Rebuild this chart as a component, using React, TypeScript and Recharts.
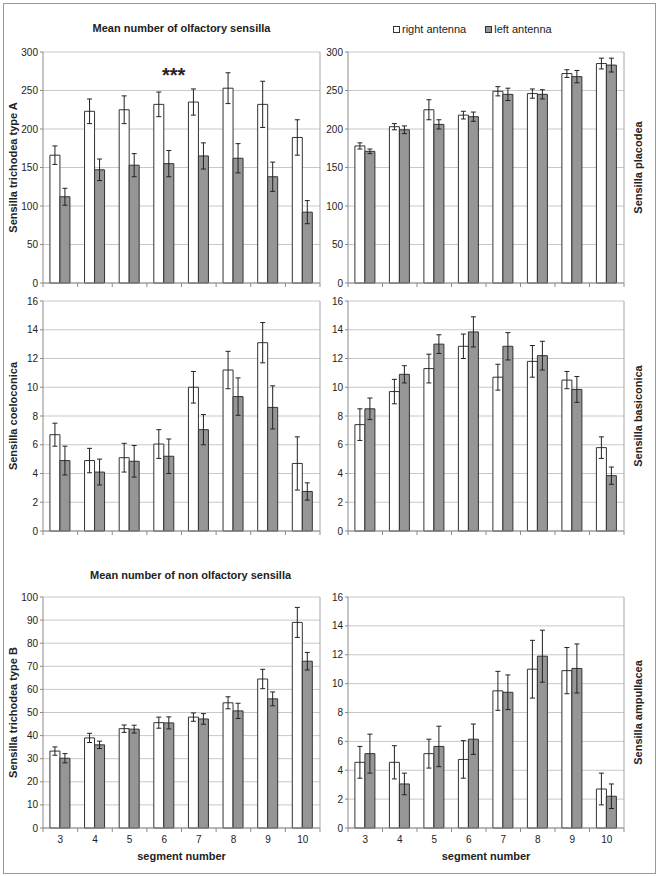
import { BarChart, Bar, XAxis, YAxis, CartesianGrid, ErrorBar, Legend } from 'recharts';

const segments = ['3', '4', '5', '6', '7', '8', '9', '10'];
const seriesOrder = ['right antenna', 'left antenna'];

const bigTicks = [0, 50, 100, 150, 200, 250, 300];
const smallTicks = [0, 2, 4, 6, 8, 10, 12, 14, 16];
const trichoBTicks = [0, 10, 20, 30, 40, 50, 60, 70, 80, 90, 100];

// Sensilla trichodea type A
const trichoARight = [166, 223, 225, 232, 235, 253, 232, 189];
const trichoARightErr = [12, 16, 18, 16, 17, 20, 30, 23];
const trichoALeft = [112, 147, 153, 155, 165, 162, 138, 92];
const trichoALeftErr = [11, 14, 15, 17, 17, 19, 19, 15];

// Sensilla placodea
const placodeaRight = [178, 203, 225, 218, 249, 246, 272, 285];
const placodeaRightErr = [4, 4, 13, 5, 6, 6, 5, 7];
const placodeaLeft = [171, 199, 206, 216, 245, 245, 268, 283];
const placodeaLeftErr = [3, 5, 6, 6, 8, 6, 8, 9];

// Sensilla coeloconica
const coeloRight = [6.7, 4.9, 5.1, 6.05, 10.0, 11.2, 13.1, 4.7];
const coeloRightErr = [0.8, 0.85, 1.0, 1.0, 1.1, 1.3, 1.4, 1.85];
const coeloLeft = [4.9, 4.1, 4.85, 5.2, 7.05, 9.35, 8.6, 2.75];
const coeloLeftErr = [1.0, 0.9, 1.1, 1.2, 1.05, 1.3, 1.5, 0.6];

// Sensilla basiconica
const basiRight = [7.4, 9.7, 11.3, 12.85, 10.7, 11.8, 10.5, 5.8];
const basiRightErr = [1.1, 0.85, 1.0, 0.85, 0.9, 1.1, 0.6, 0.75];
const basiLeft = [8.5, 10.9, 13.0, 13.85, 12.85, 12.2, 9.85, 3.85];
const basiLeftErr = [0.75, 0.6, 0.65, 1.05, 0.95, 1.0, 0.9, 0.6];

// Sensilla trichodea type B
const trichoBRight = [33.3, 39.0, 43.0, 45.6, 48.0, 54.2, 64.5, 89.0];
const trichoBRightErr = [1.8, 2.0, 1.6, 2.4, 1.8, 2.6, 4.2, 6.5];
const trichoBLeft = [30.2, 36.0, 42.8, 45.5, 47.2, 50.7, 55.9, 72.2];
const trichoBLeftErr = [2.0, 1.6, 1.7, 2.6, 2.3, 3.3, 3.0, 3.8];

// Sensilla ampullacea
const ampRight = [4.55, 4.55, 5.15, 4.75, 9.5, 11.0, 10.9, 2.7];
const ampRightErr = [1.1, 1.15, 1.0, 1.3, 1.35, 2.0, 1.6, 1.1];
const ampLeft = [5.15, 3.05, 5.65, 6.15, 9.4, 11.9, 11.05, 2.2];
const ampLeftErr = [1.35, 0.75, 1.4, 1.05, 1.2, 1.8, 1.7, 0.85];

const FONT = '"Liberation Sans", Arial, sans-serif';
const TEXT = '#222';
const GRID = '#c8c8c8';
const AXIS = '#8a8a8a';
const BORDER = '#a6a6a6';
const BAR_STROKE = '#333';
const GRAY = '#969696';

const SideLabel = (props: any) => {
  const { viewBox, value, dx } = props;
  const cx = viewBox.x + dx;
  const cy = viewBox.y + viewBox.height / 2;
  return (
    <text
      x={cx}
      y={cy}
      transform={`rotate(-90 ${cx} ${cy})`}
      textAnchor="middle"
      dominantBaseline="central"
      fontSize={11}
      fontWeight="bold"
      fill={TEXT}
    >
      {value}
    </text>
  );
};

// category ticks sit between the groups, like the original spreadsheet chart
const makeTick = (band: number, showLabel: boolean) => (props: any) => {
  const { x, y, payload, index } = props;
  const h = band / 2;
  return (
    <g>
      <line x1={x - h} x2={x - h} y1={y} y2={y + 4} stroke={AXIS} />
      {index === segments.length - 1 && <line x1={x + h} x2={x + h} y1={y} y2={y + 4} stroke={AXIS} />}
      {showLabel && (
        <text x={x} y={y + 8} dy="0.71em" textAnchor="middle" fontSize={10} fill={TEXT}>
          {payload.value}
        </text>
      )}
    </g>
  );
};

const LegendContent = ({ payload }: any) => {
  const items = [...(payload || [])].sort((a: any, b: any) => seriesOrder.indexOf(a.value) - seriesOrder.indexOf(b.value));
  return (
    <div style={{ display: 'flex', gap: 19, fontSize: 11, color: TEXT, lineHeight: '13px', fontFamily: FONT }}>
      {items.map((e: any) => (
        <span key={e.value} style={{ display: 'flex', alignItems: 'center' }}>
          <span style={{ width: 5, height: 5, border: `1px solid ${BAR_STROKE}`, background: e.color, marginRight: 2 }} />
          {e.value}
        </span>
      ))}
    </div>
  );
};

interface PanelProps {
  side: 'left' | 'right';
  top: number;
  height: number;
  marginTop: number;
  xHeight: number;
  ticks: number[];
  right: number[];
  rightErr: number[];
  left: number[];
  leftErr: number[];
  label: string;
  bottomRow?: boolean;
  legend?: boolean;
}

function Panel({ side, top, height, marginTop, xHeight, ticks, right, rightErr, left, leftErr, label, bottomRow, legend }: PanelProps) {
  const isLeft = side === 'left';
  const chartLeft = isLeft ? 0 : 320;
  const width = isLeft ? 330 : 335;
  const yW = isLeft ? 43 : 28;
  const rW = isLeft ? 10 : 31;
  const band = (width - yW - rW) / segments.length;
  const rows = segments.map((s, i) => ({
    seg: s,
    r: right[i],
    rErr: rightErr[i],
    l: left[i],
    lErr: leftErr[i],
  }));
  const max = ticks[ticks.length - 1];

  return (
    <div style={{ position: 'absolute', left: chartLeft, top }}>
      <BarChart
        width={width}
        height={height}
        data={rows}
        margin={{ top: marginTop, right: 0, bottom: 0, left: 0 }}
        barCategoryGap="20%"
        barGap={0}
        style={{ fontFamily: FONT }}
      >
        <CartesianGrid yAxisId="l" vertical={false} stroke={GRID} />
        <XAxis
          dataKey="seg"
          height={xHeight}
          axisLine={{ stroke: AXIS }}
          tickLine={false}
          tickSize={0}
          tickMargin={0}
          interval={0}
          tick={makeTick(band, !!bottomRow)}
          label={bottomRow ? { value: 'segment number', position: 'insideBottom', offset: 16, fontSize: 11, fontWeight: 'bold', fill: TEXT } : undefined}
        />
        <YAxis
          yAxisId="l"
          width={yW}
          domain={[0, max]}
          ticks={ticks}
          interval={0}
          tickSize={3}
          tickMargin={2}
          axisLine={{ stroke: AXIS }}
          tickLine={{ stroke: AXIS }}
          tick={{ fontSize: 10, fill: TEXT }}
          label={isLeft ? { value: label, content: (p: any) => <SideLabel {...p} value={label} dx={13} /> } : undefined}
        />
        <YAxis
          yAxisId="r"
          orientation="right"
          width={rW}
          domain={[0, 1]}
          tick={false}
          tickLine={false}
          axisLine={{ stroke: BORDER }}
          label={!isLeft ? { value: label, content: (p: any) => <SideLabel {...p} value={label} dx={14} /> } : undefined}
        />
        {legend && (
          <Legend
            layout="vertical"
            verticalAlign="middle"
            align="center"
            content={<LegendContent />}
            wrapperStyle={{ top: 23, left: 73, width: 'auto' }}
          />
        )}
        <Bar yAxisId="l" dataKey="r" name="right antenna" fill="#ffffff" stroke={BAR_STROKE} strokeWidth={1} isAnimationActive={false}>
          <ErrorBar dataKey="rErr" width={2.5} stroke={TEXT} strokeWidth={1} isAnimationActive={false} />
        </Bar>
        <Bar yAxisId="l" dataKey="l" name="left antenna" fill={GRAY} stroke={BAR_STROKE} strokeWidth={1} isAnimationActive={false}>
          <ErrorBar dataKey="lErr" width={2.5} stroke={TEXT} strokeWidth={1} isAnimationActive={false} />
        </Bar>
      </BarChart>
    </div>
  );
}

const titleStyle: React.CSSProperties = {
  position: 'absolute',
  fontSize: 11,
  fontWeight: 'bold',
  color: TEXT,
  textAlign: 'center',
  lineHeight: '14px',
  whiteSpace: 'nowrap',
};

export default function App() {
  return (
    <div style={{ position: 'absolute', left: 0, top: 0, width: 660, height: 876, background: '#fff', fontFamily: FONT }}>
      <div style={{ position: 'absolute', left: 3, top: 3, width: 651, height: 869, border: '1px solid #999' }} />

      <Panel side="left" top={0} height={295} marginTop={52} xHeight={12} ticks={bigTicks}
        right={trichoARight} rightErr={trichoARightErr} left={trichoALeft} leftErr={trichoALeftErr}
        label="Sensilla trichodea type A" />
      <Panel side="right" top={0} height={295} marginTop={52} xHeight={12} ticks={bigTicks}
        right={placodeaRight} rightErr={placodeaRightErr} left={placodeaLeft} leftErr={placodeaLeftErr}
        label="Sensilla placodea" legend />

      <Panel side="left" top={295} height={248} marginTop={6} xHeight={12} ticks={smallTicks}
        right={coeloRight} rightErr={coeloRightErr} left={coeloLeft} leftErr={coeloLeftErr}
        label="Sensilla coeloconica" />
      <Panel side="right" top={295} height={248} marginTop={6} xHeight={12} ticks={smallTicks}
        right={basiRight} rightErr={basiRightErr} left={basiLeft} leftErr={basiLeftErr}
        label="Sensilla basiconica" />

      <Panel side="left" top={545} height={331} marginTop={52} xHeight={48} ticks={trichoBTicks}
        right={trichoBRight} rightErr={trichoBRightErr} left={trichoBLeft} leftErr={trichoBLeftErr}
        label="Sensilla trichodea type B" bottomRow />
      <Panel side="right" top={545} height={331} marginTop={52} xHeight={48} ticks={smallTicks}
        right={ampRight} rightErr={ampRightErr} left={ampLeft} leftErr={ampLeftErr}
        label="Sensilla ampullacea" bottomRow />

      <div style={{ ...titleStyle, left: 43, width: 277, top: 21 }}>Mean number of olfactory sensilla</div>
      <div style={{ ...titleStyle, left: 90, width: 200, top: 568 }}>Mean number of non olfactory sensilla</div>
      <div style={{ position: 'absolute', left: 162, top: 65, fontSize: 20, fontWeight: 'bold', lineHeight: '20px', color: TEXT }}>***</div>
    </div>
  );
}
